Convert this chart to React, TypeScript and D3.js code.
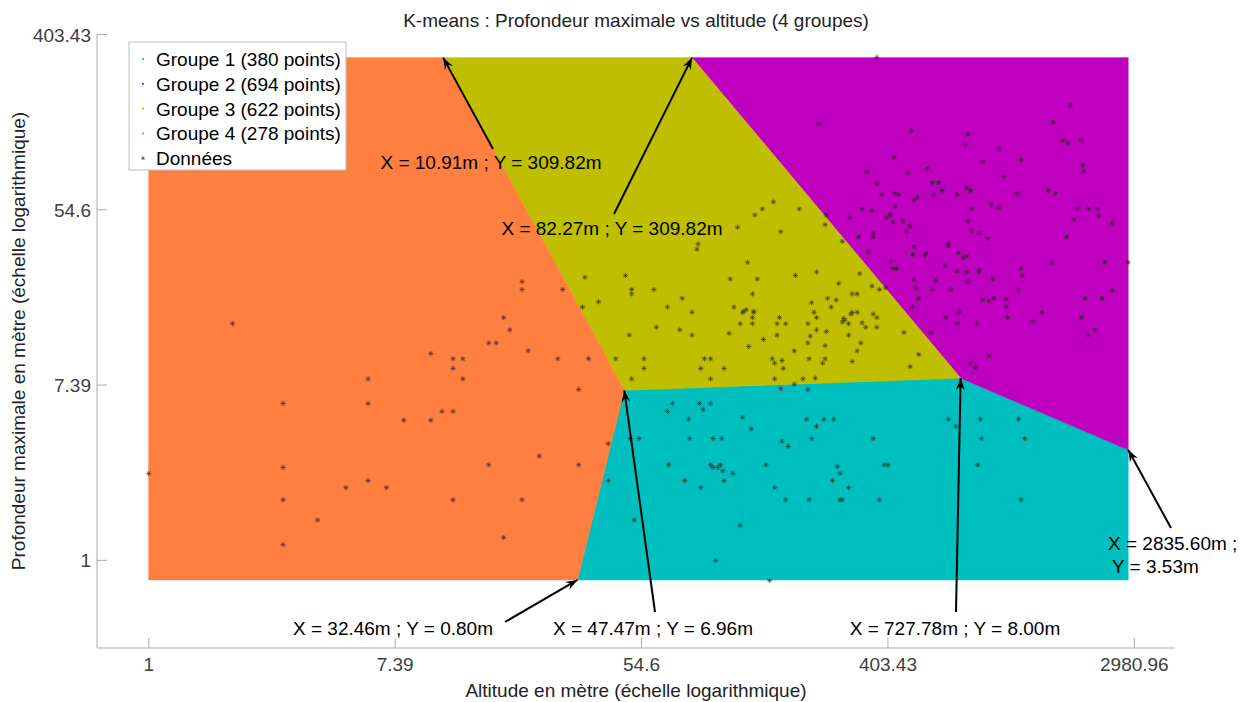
import * as d3 from 'd3';

// Natural-log coordinates (ln altitude, ln max depth), one array per k-means group
const group1: [number, number][] = [
  [4.25, 1.79], [4.47, 1.79], [4.56, 1.79], [4.21, 1.7], [4.5, 1.72], [4.38, 1.61], [4.82, 1.63],
  [4.89, 1.5], [3.91, 1.39], [3.98, 1.39], [4.39, 1.39], [4.58, 1.39], [4.65, 1.39], [5.14, 1.36],
  [5.19, 1.3], [4.22, 1.09], [4.56, 1.09], [4.58, 1.06], [4.62, 1.06], [4.64, 1.09], [4.66, 1.02],
  [4.74, 0.99], [5.01, 1.09], [4.35, 0.91], [4.67, 0.91], [4.48, 0.83], [5.08, 0.83], [5.17, 0.69],
  [3.94, 0.46], [4.8, 0.4], [4.6, 0.0], [5.04, -0.23], [3.73, 0.91], [5.13, 1.96], [5.35, 1.95],
  [5.34, 1.61], [5.48, 1.61], [5.56, 1.61], [5.42, 1.53], [5.38, 1.39], [5.88, 1.39], [6.49, 1.61],
  [6.55, 1.53], [6.75, 1.61], [7.06, 1.61], [6.76, 1.39], [7.11, 1.39], [5.59, 1.07], [5.61, 0.99],
  [5.55, 0.91], [5.68, 0.83], [5.97, 1.09], [6.0, 1.09], [6.73, 1.09], [5.36, 0.69], [5.61, 0.69],
  [5.63, 0.69], [5.93, 0.69], [7.08, 0.69],
];

const group2: [number, number][] = [
  [5.91, 5.74], [7.48, 5.19], [7.34, 5.0], [5.44, 4.98], [6.19, 4.9], [6.65, 4.86], [6.63, 4.75],
  [7.42, 4.79], [7.46, 4.76], [7.57, 4.79], [6.9, 4.69], [6.05, 4.6], [6.77, 4.55], [7.08, 4.57],
  [7.58, 4.51], [7.59, 4.44], [6.32, 4.47], [5.83, 4.43], [6.16, 4.42], [6.94, 4.38], [5.91, 4.3],
  [6.36, 4.31], [6.41, 4.31], [5.95, 4.17], [6.06, 4.19], [6.09, 4.17], [6.21, 4.11], [6.24, 4.14],
  [6.37, 4.17], [6.44, 4.22], [6.56, 4.17], [6.64, 4.25], [6.67, 4.22], [7.05, 4.19], [7.3, 4.22],
  [7.36, 4.19], [5.79, 4.01], [5.87, 3.99], [6.06, 4.04], [6.84, 4.06], [6.9, 4.02], [6.68, 4.01],
  [7.54, 4.02], [7.63, 4.01], [7.7, 4.01], [7.71, 3.93], [7.51, 3.89], [7.82, 3.85], [5.5, 3.94],
  [5.69, 3.91], [5.99, 3.91], [6.02, 3.94], [6.04, 3.86], [6.12, 3.87], [6.18, 3.81], [6.15, 3.75],
  [6.65, 3.87], [6.68, 3.76], [6.74, 3.73], [6.81, 3.67], [5.88, 3.73], [5.88, 3.69], [5.76, 3.69],
  [7.45, 3.69], [6.21, 3.58], [5.84, 3.52], [6.2, 3.49], [6.3, 3.48], [6.31, 3.5], [6.49, 3.61],
  [6.49, 3.59], [6.57, 3.51], [6.61, 3.45], [6.64, 3.47], [6.02, 3.41], [6.04, 3.33], [6.07, 3.33],
  [6.46, 3.36], [6.56, 3.3], [6.64, 3.29], [6.74, 3.31], [6.74, 3.29], [7.08, 3.33], [7.09, 3.25],
  [7.33, 3.4], [7.76, 3.4], [7.95, 3.4], [6.21, 3.2], [6.39, 3.19], [6.65, 3.18], [6.85, 3.21],
  [6.23, 3.11], [6.36, 3.09], [6.51, 3.09], [7.06, 3.09], [7.82, 3.08], [5.98, 3.11], [5.93, 3.09],
  [5.87, 3.13], [6.25, 2.99], [6.77, 2.97], [6.82, 2.96], [6.86, 2.99], [6.96, 2.98], [6.96, 2.89],
  [7.6, 2.99], [7.74, 2.99], [6.2, 2.89], [6.58, 2.83], [7.25, 2.83], [6.47, 2.77], [6.97, 2.77],
  [7.57, 2.77], [6.56, 2.7], [6.72, 2.7], [7.18, 2.73], [6.35, 2.6], [7.62, 2.57], [7.68, 2.63],
  [6.82, 2.33], [6.67, 2.25], [6.71, 2.2],
];

const group3: [number, number][] = [
  [4.41, 2.83], [4.82, 2.83], [4.91, 2.83], [4.9, 2.77], [5.12, 2.77], [4.8, 2.7], [4.9, 2.7],
  [5.1, 2.7], [5.17, 2.7], [4.12, 2.66], [4.31, 2.63], [3.9, 2.57], [4.41, 2.57], [4.71, 2.59],
  [5.1, 2.57], [4.99, 2.52], [4.87, 2.44], [5.24, 2.39], [3.79, 2.3], [4.02, 2.3], [4.51, 2.3],
  [4.56, 2.3], [5.06, 2.3], [5.08, 2.25], [5.14, 2.28], [4.02, 2.19], [4.48, 2.19], [4.67, 2.19],
  [5.15, 2.19], [3.92, 2.07], [4.56, 2.07], [5.08, 2.07], [5.24, 2.01], [5.07, 4.09], [4.98, 4.01],
  [4.92, 3.94], [4.78, 3.8], [5.13, 3.75], [4.46, 3.61], [4.45, 3.55], [4.86, 3.4], [3.87, 3.25],
  [3.92, 3.09], [3.92, 3.04], [4.1, 3.09], [4.72, 3.21], [4.94, 3.21], [5.25, 3.25], [4.9, 3.04],
  [4.33, 2.99], [4.21, 2.89], [4.75, 2.89], [4.83, 2.84], [4.85, 2.86], [4.91, 2.84], [5.28, 4.01],
  [5.42, 3.29], [5.77, 3.27], [5.6, 3.16], [5.71, 3.04], [5.75, 3.04], [5.51, 2.99], [5.58, 2.97],
  [5.38, 2.94], [5.54, 2.89], [5.4, 2.83], [5.71, 2.83], [5.75, 2.83], [5.7, 2.81], [5.88, 2.81],
  [5.91, 2.77], [5.42, 2.77], [5.64, 2.76], [5.63, 3.64], [5.49, 3.83], [5.63, 2.72], [5.65, 2.74],
  [5.35, 2.7], [5.68, 2.7], [5.79, 2.71], [5.82, 2.66], [5.91, 2.66], [5.42, 2.63], [5.5, 2.61],
  [6.13, 2.6], [5.37, 2.56], [5.68, 2.57], [5.35, 2.48], [5.78, 2.48], [5.49, 2.45], [5.75, 2.39],
  [6.25, 2.35], [5.36, 2.3], [5.49, 2.3], [5.47, 2.25], [5.71, 2.27], [6.18, 2.21], [5.31, 2.07],
  [5.41, 2.08],
];

const group4: [number, number][] = [
  [0.68, 2.7], [2.29, 2.36], [2.47, 2.3], [2.55, 2.3], [2.47, 2.19], [1.78, 2.07], [2.55, 2.07],
  [1.09, 1.79], [1.78, 1.79], [2.38, 1.7], [2.47, 1.7], [2.07, 1.6], [2.29, 1.6], [0.0, 0.99],
  [1.09, 1.06], [1.78, 0.91], [1.6, 0.83], [1.93, 0.83], [1.09, 0.69], [2.47, 0.69], [1.37, 0.46],
  [1.09, 0.18], [2.88, 2.77], [2.93, 2.63], [2.76, 2.48], [2.82, 2.48], [3.08, 2.39], [3.32, 2.3],
  [3.57, 2.3], [3.49, 1.95], [3.73, 1.33], [3.17, 1.19], [2.76, 1.09], [3.49, 1.09], [3.03, 0.69],
  [2.88, 0.26], [3.03, 3.18], [3.03, 3.09], [3.36, 3.09], [3.54, 3.23], [3.52, 2.89], [3.65, 2.95],
];

const groupCounts = [380, 694, 622, 278];
const groupColors = ['#00bfbf', '#bf00bf', '#bfbf00', '#ff7f40'];

// Voronoi vertices of the k-means partition (metres): B, C, G, T1, T2, E
const markAlt = [10.91, 82.27, 32.46, 47.47, 727.78, 2835.6];
const markDepth = [309.82, 309.82, 0.8, 6.96, 8.0, 3.53];
const altMin = 1;

const xTicks = [0, 2, 4, 6, 8];
const yTicks = [0, 2, 4, 6];

// label placement (px) and arrow tails for each vertex annotation
const labelPos = [[491, 162], [612, 228], [393, 628], [653, 628], [955, 628], [1108, 543]];
const arrowTail = [[493, 149], [614, 214], [505, 622], [655, 612], [956, 612], [1171, 528]];

const font = '"Liberation Sans", Arial, sans-serif';

function star(cx: number, cy: number, s: number) {
  const d = s * 0.72;
  return `M${cx - s},${cy}H${cx + s}M${cx},${cy - s}V${cy + s}M${cx - d},${cy - d}L${cx + d},${cy + d}M${cx - d},${cy + d}L${cx + d},${cy - d}`;
}

function arrowHead(x1: number, y1: number, x2: number, y2: number) {
  const a = Math.atan2(y2 - y1, x2 - x1);
  const L = 12, w = 4.5;
  const bx = x2 - L * Math.cos(a), by = y2 - L * Math.sin(a);
  const nx = x2 - L * 0.65 * Math.cos(a), ny = y2 - L * 0.65 * Math.sin(a);
  const px = -Math.sin(a) * w, py = Math.cos(a) * w;
  return `M${x2},${y2}L${bx + px},${by + py}L${nx},${ny}L${bx - px},${by - py}Z`;
}

export default function App() {
  const width = 1240;
  const height = 702;

  const x = d3.scaleLinear().domain([-0.42, 8.33]).range([97, 1175]);
  const y = d3.scaleLinear().domain([-1, 6]).range([648, 34.5]);

  const P = (alt: number, dep: number): [number, number] => [x(Math.log(alt)), y(Math.log(dep))];
  const altMax = markAlt[5];
  const depMin = markDepth[2];
  const depMax = markDepth[0];

  const B = P(markAlt[0], markDepth[0]);
  const C = P(markAlt[1], markDepth[1]);
  const G = P(markAlt[2], markDepth[2]);
  const T1 = P(markAlt[3], markDepth[3]);
  const T2 = P(markAlt[4], markDepth[4]);
  const E = P(markAlt[5], markDepth[5]);
  const TL = P(altMin, depMax);
  const BL = P(altMin, depMin);
  const TR = P(altMax, depMax);
  const BR = P(altMax, depMin);

  const regions: [number, number][][] = [
    [T1, T2, E, BR, G],
    [C, TR, E, T2],
    [B, C, T2, T1],
    [TL, B, T1, G, BL],
  ];
  const line = d3.line();

  const allPoints = [...group1, ...group2, ...group3, ...group4];
  const tickLabel = (t: number) => String(Math.round(Math.exp(t) * 100) / 100);

  const legendItems = groupCounts.map((n, i) => `Groupe ${i + 1} (${n} points)`);

  return (
    <svg width={width} height={height} style={{ position: 'absolute', left: 0, top: 0, background: '#fff' }} fontFamily={font}>
      <rect width={width} height={height} fill='#fff' />
      {regions.map((poly, i) => (
        <path key={i} d={line(poly) + 'Z'} fill={groupColors[i]} stroke={groupColors[i]} strokeWidth={0.6} />
      ))}
      <g stroke='#222' strokeWidth={0.8} opacity={0.75}>
        {allPoints.map((p, i) => (
          <path key={i} d={star(x(p[0]), y(p[1]), 2.6)} />
        ))}
      </g>

      {/* axes */}
      <g stroke='#ababab' strokeWidth={1}>
        <line x1={97} x2={97} y1={y(6)} y2={648} />
        <line x1={97} x2={1175} y1={648} y2={648} />
        {xTicks.map((t) => (
          <line key={t} x1={x(t)} x2={x(t)} y1={648} y2={638} />
        ))}
        {yTicks.map((t) => (
          <line key={t} x1={97} x2={107} y1={y(t)} y2={y(t)} />
        ))}
      </g>
      <g fontSize={19} fill='#404040'>
        {xTicks.map((t) => (
          <text key={t} x={x(t)} y={671} textAnchor='middle'>{tickLabel(t)}</text>
        ))}
        {yTicks.map((t) => (
          <text key={t} x={91} y={y(t) + 7} textAnchor='end'>{tickLabel(t)}</text>
        ))}
      </g>
      <text x={636} y={697} textAnchor='middle' fontSize={19} fill='#222'>
        Altitude en mètre (échelle logarithmique)
      </text>
      <text transform={`translate(25,341) rotate(-90)`} textAnchor='middle' fontSize={19} fill='#222'>
        Profondeur maximale en mètre (échelle logarithmique)
      </text>
      <text x={636} y={27} textAnchor='middle' fontSize={19} fill='#222'>
        K-means : Profondeur maximale vs altitude (4 groupes)
      </text>

      {/* vertex annotations */}
      {markAlt.map((a, i) => {
        const [tx, ty] = P(a, markDepth[i]);
        const [sx, sy] = arrowTail[i];
        const [lx, ly] = labelPos[i];
        const txt = `X = ${a.toFixed(2)}m ; Y = ${markDepth[i].toFixed(2)}m`;
        return (
          <g key={i}>
            <line x1={sx} y1={sy} x2={tx} y2={ty} stroke='#000' strokeWidth={2} />
            <path d={arrowHead(sx, sy, tx, ty)} fill='#000' />
            {i === 5 ? (
              <text x={lx} y={ly + 7} fontSize={19} fill='#000'>
                <tspan x={lx}>{`X = ${a.toFixed(2)}m ;`}</tspan>
                <tspan x={lx + 4} dy={23}>{`Y = ${markDepth[i].toFixed(2)}m`}</tspan>
              </text>
            ) : (
              <text x={lx} y={ly + 7} textAnchor='middle' fontSize={19} fill='#000'>{txt}</text>
            )}
          </g>
        );
      })}

      {/* legend */}
      <g>
        <rect x={129} y={42} width={217} height={128} fill='#fff' stroke='#bdbdbd' strokeWidth={1} />
        {legendItems.map((lab, i) => (
          <g key={i}>
            <circle cx={143} cy={59 + i * 24.8} r={1.1} fill={groupColors[i]} />
            <text x={156} y={59 + i * 24.8 + 7} fontSize={19} fill='#000'>{lab}</text>
          </g>
        ))}
        <path d={star(143, 59 + 4 * 24.8, 1.8)} stroke='#555' strokeWidth={0.8} />
        <text x={156} y={59 + 4 * 24.8 + 7} fontSize={19} fill='#000'>Données</text>
      </g>
    </svg>
  );
}
